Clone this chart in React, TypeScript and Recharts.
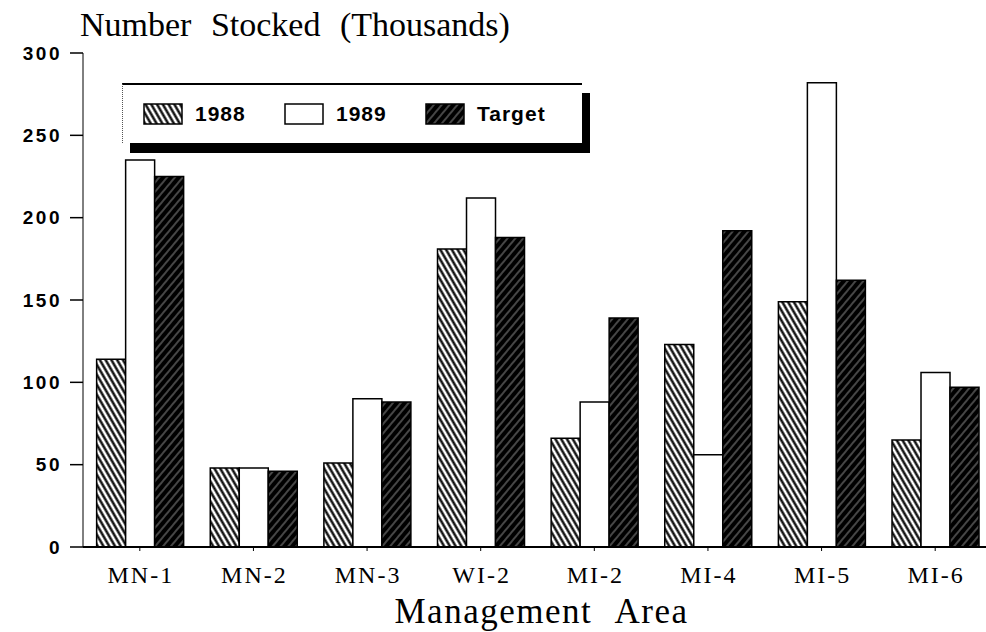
import React from 'react';
import { BarChart, Bar, XAxis, YAxis, Legend, Label } from 'recharts';

const areas = ['MN-1', 'MN-2', 'MN-3', 'WI-2', 'MI-2', 'MI-4', 'MI-5', 'MI-6'];
const stocked1988 = [114, 48, 51, 181, 66, 123, 149, 65];
const stocked1989 = [235, 48, 90, 212, 88, 56, 282, 106];
const target = [225, 46, 88, 188, 139, 192, 162, 97];
const yTicks = [0, 50, 100, 150, 200, 250, 300];

const series = [
  { key: 'y1988', name: '1988', fill: 'url(#hatch1988)' },
  { key: 'y1989', name: '1989', fill: '#ffffff' },
  { key: 'target', name: 'Target', fill: 'url(#hatchTarget)' },
];

const data = areas.map((area, i) => ({
  area,
  y1988: stocked1988[i],
  y1989: stocked1989[i],
  target: target[i],
}));

const serif = '"Liberation Serif", "Times New Roman", serif';
const sans = '"Liberation Sans", Arial, sans-serif';

const Patterns = () => (
  <svg width={0} height={0} style={{ position: 'absolute' }}>
    <defs>
      <pattern id="hatch1988" patternUnits="userSpaceOnUse" width={5} height={5} patternTransform="rotate(-30)">
        <rect width={5} height={5} fill="#ffffff" />
        <line x1={1.5} y1={0} x2={1.5} y2={5} stroke="#000" strokeWidth={2.3} />
      </pattern>
      <pattern id="hatchTarget" patternUnits="userSpaceOnUse" width={6} height={6} patternTransform="rotate(40)">
        <rect width={6} height={6} fill="#000" />
        <line x1={2} y1={0} x2={2} y2={6} stroke="#fff" strokeWidth={1} strokeOpacity={0.55} />
      </pattern>
    </defs>
  </svg>
);

const AreaTick = ({ x, y, payload }: any) => (
  <text
    x={x + 1}
    y={y}
    dy={30}
    textAnchor="middle"
    fontFamily={serif}
    fontSize={24}
    letterSpacing={2}
    fill="#000"
  >
    {payload.value}
  </text>
);

const LegendBox = () => (
  <div style={{ position: 'relative', width: 470, height: 72 }}>
    <div
      style={{
        position: 'absolute',
        left: 8,
        top: 10,
        width: 460,
        height: 60,
        background: '#000',
      }}
    />
    <div
      style={{
        position: 'absolute',
        left: 0,
        top: 0,
        width: 460,
        height: 60,
        background: '#fff',
        borderTop: '2px solid #000',
        borderLeft: '1px dotted #555',
        display: 'flex',
        alignItems: 'center',
        paddingLeft: 20,
        boxSizing: 'border-box',
      }}
    >
      {series.map((s) => (
        <div key={s.key} style={{ display: 'flex', alignItems: 'center', width: 141 }}>
          <svg width={40} height={22}>
            <rect x={1} y={1} width={38} height={20} fill={s.fill} stroke="#000" strokeWidth={1.5} />
          </svg>
          <span
            style={{
              fontFamily: sans,
              fontWeight: 700,
              fontSize: 21,
              letterSpacing: 1,
              marginLeft: 12,
              color: '#000',
            }}
          >
            {s.name}
          </span>
        </div>
      ))}
    </div>
  </div>
);

export default function App() {
  return (
    <div
      style={{
        position: 'absolute',
        left: 0,
        top: 0,
        width: 986,
        height: 632,
        overflow: 'hidden',
        background: '#fff',
      }}
    >
      <Patterns />
      <div
        style={{
          position: 'absolute',
          left: 80,
          top: 8,
          fontFamily: serif,
          fontSize: 34,
          lineHeight: '34px',
          wordSpacing: 11,
          color: '#000',
          whiteSpace: 'nowrap',
        }}
      >
        Number Stocked (Thousands)
      </div>
      <BarChart
        width={992}
        height={632}
        data={data}
        margin={{ top: 53, right: 0, bottom: 0, left: 0 }}
        barCategoryGap="12%"
        barGap={0}
      >
        <XAxis
          dataKey="area"
          height={85}
          tick={<AreaTick />}
          tickSize={4}
          tickMargin={2}
          tickLine={{ stroke: '#000', strokeWidth: 1 }}
          axisLine={{ stroke: '#000', strokeWidth: 2 }}
          interval={0}
        >
          <Label
            value="Management Area"
            position="insideBottom"
            offset={9}
            dx={4}
            style={{ fontFamily: serif, fontSize: 35, letterSpacing: 1.5, wordSpacing: 14, fill: '#000' }}
          />
        </XAxis>
        <YAxis
          width={83}
          domain={[0, 300]}
          ticks={yTicks}
          interval={0}
          tickSize={13}
          tickMargin={8}
          tickLine={{ stroke: '#000', strokeWidth: 1.5 }}
          axisLine={{ stroke: '#000', strokeWidth: 1 }}
          tick={{ fontFamily: sans, fontWeight: 700, fontSize: 19, letterSpacing: 2.5, fill: '#000' }}
        />
        <Legend
          layout="horizontal"
          verticalAlign="middle"
          align="center"
          content={<LegendBox />}
          wrapperStyle={{ left: 122, top: 83, width: 470, height: 72 }}
        />
        {series.map((s) => (
          <Bar
            key={s.key}
            dataKey={s.key}
            name={s.name}
            fill={s.fill}
            stroke="#000"
            strokeWidth={1.5}
            isAnimationActive={false}
          />
        ))}
      </BarChart>
    </div>
  );
}
